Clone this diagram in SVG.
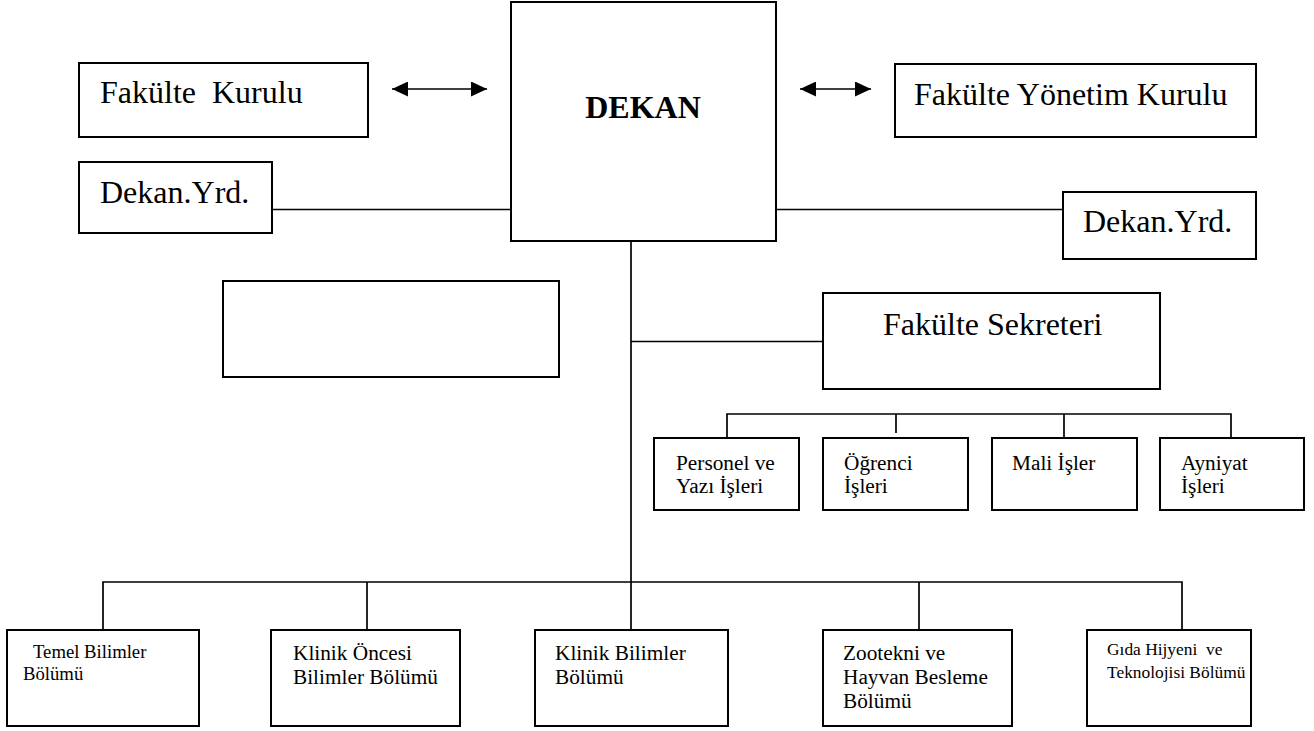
<svg xmlns="http://www.w3.org/2000/svg" width="1314" height="731" viewBox="0 0 1314 731">
  <style>
    .box { fill: #ffffff; stroke: #000000; stroke-width: 2; }
    .ln { fill: none; stroke: #000000; stroke-width: 1.7; }
    .t { font-family: "Liberation Serif", "Times New Roman", serif; fill: #000000; white-space: pre; }
    .big { font-size: 32px; }
    .mid { font-size: 21.3px; }
    .sm { font-size: 18.7px; }
    .xs { font-size: 17.4px; }
  </style>
  <defs>
    <marker id="ah" viewBox="0 0 16 15" refX="16" refY="7.5" markerWidth="16" markerHeight="15" markerUnits="userSpaceOnUse" orient="auto-start-reverse">
      <path d="M0,0 L16,7.5 L0,15 z" fill="#000000"/>
    </marker>
  </defs>

  <g id="connectors">
    <line class="ln" x1="392" y1="89" x2="487" y2="89" marker-start="url(#ah)" marker-end="url(#ah)" stroke-width="2.8"/>
    <line class="ln" x1="800" y1="89" x2="871" y2="89" marker-start="url(#ah)" marker-end="url(#ah)" stroke-width="2.8"/>
    <line class="ln" x1="272" y1="209.5" x2="511" y2="209.5"/>
    <line class="ln" x1="776" y1="209.5" x2="1063" y2="209.5"/>
    <line class="ln" x1="631" y1="241" x2="631" y2="582"/>
    <line class="ln" x1="631" y1="341.5" x2="823" y2="341.5"/>
    <polyline class="ln" points="727,438 727,414 1231,414 1231,438"/>
    <line class="ln" x1="896" y1="414" x2="896" y2="433"/>
    <line class="ln" x1="1064" y1="414" x2="1064" y2="438"/>
    <polyline class="ln" points="103,630 103,582 1182,582 1182,630"/>
    <line class="ln" x1="367" y1="582" x2="367" y2="630"/>
    <line class="ln" x1="631" y1="582" x2="631" y2="630"/>
    <line class="ln" x1="919" y1="582" x2="919" y2="630"/>
  </g>

  <g id="dekan">
    <rect class="box" x="511" y="2" width="265" height="239"/>
    <text class="t big" x="643" y="118" text-anchor="middle" font-weight="bold">DEKAN</text>
  </g>

  <g id="fakulte-kurulu">
    <rect class="box" x="79" y="63" width="289" height="74"/>
    <text class="t big" x="100" y="103" xml:space="preserve">Fakülte  Kurulu</text>
  </g>

  <g id="fakulte-yonetim-kurulu">
    <rect class="box" x="895" y="64" width="361" height="73"/>
    <text class="t big" x="914" y="105">Fakülte Yönetim Kurulu</text>
  </g>

  <g id="dekan-yrd-left">
    <rect class="box" x="79" y="162" width="193" height="71"/>
    <text class="t big" x="100" y="203">Dekan.Yrd.</text>
  </g>

  <g id="dekan-yrd-right">
    <rect class="box" x="1063" y="192" width="193" height="67"/>
    <text class="t big" x="1083" y="232">Dekan.Yrd.</text>
  </g>

  <g id="empty-box">
    <rect class="box" x="223" y="281" width="336" height="96"/>
  </g>

  <g id="fakulte-sekreteri">
    <rect class="box" x="823" y="293" width="337" height="96"/>
    <text class="t big" x="883" y="335">Fakülte Sekreteri</text>
  </g>

  <g id="personel">
    <rect class="box" x="654" y="438" width="145" height="72"/>
    <text class="t mid" x="676" y="470">Personel ve</text>
    <text class="t mid" x="676" y="493">Yazı İşleri</text>
  </g>

  <g id="ogrenci">
    <rect class="box" x="823" y="438" width="145" height="72"/>
    <text class="t mid" x="844" y="470">Öğrenci</text>
    <text class="t mid" x="844" y="493">İşleri</text>
  </g>

  <g id="mali">
    <rect class="box" x="992" y="438" width="145" height="72"/>
    <text class="t mid" x="1012" y="470">Mali İşler</text>
  </g>

  <g id="ayniyat">
    <rect class="box" x="1160" y="438" width="144" height="72"/>
    <text class="t mid" x="1181" y="470">Ayniyat</text>
    <text class="t mid" x="1181" y="493">İşleri</text>
  </g>

  <g id="temel">
    <rect class="box" x="7" y="630" width="192" height="96"/>
    <text class="t sm" x="33" y="658">Temel Bilimler</text>
    <text class="t sm" x="23" y="680">Bölümü</text>
  </g>

  <g id="klinik-oncesi">
    <rect class="box" x="271" y="630" width="189" height="96"/>
    <text class="t mid" x="293" y="660">Klinik Öncesi</text>
    <text class="t mid" x="293" y="684">Bilimler Bölümü</text>
  </g>

  <g id="klinik-bilimler">
    <rect class="box" x="535" y="630" width="193" height="96"/>
    <text class="t mid" x="555" y="660">Klinik Bilimler</text>
    <text class="t mid" x="555" y="684">Bölümü</text>
  </g>

  <g id="zootekni">
    <rect class="box" x="823" y="630" width="189" height="96"/>
    <text class="t mid" x="843" y="660">Zootekni ve</text>
    <text class="t mid" x="843" y="684">Hayvan Besleme</text>
    <text class="t mid" x="843" y="708">Bölümü</text>
  </g>

  <g id="gida">
    <rect class="box" x="1087" y="630" width="164" height="96"/>
    <text class="t xs" x="1107" y="655" xml:space="preserve">Gıda Hijyeni  ve</text>
    <text class="t xs" x="1107" y="678">Teknolojisi Bölümü</text>
  </g>
</svg>
